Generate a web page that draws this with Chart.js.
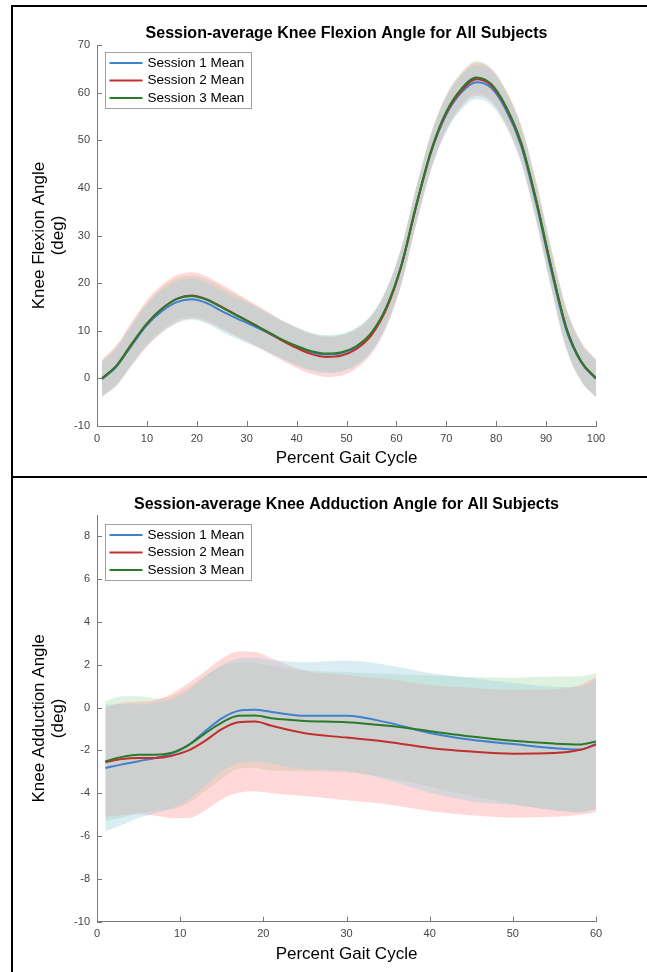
<!DOCTYPE html>
<html>
<head>
<meta charset="utf-8">
<script src="https://cdn.jsdelivr.net/npm/chart.js@4.4.1/dist/chart.umd.min.js"></script>
<style>
  html, body { margin: 0; padding: 0; background: #fff; }
  #page { position: relative; width: 647px; height: 972px; overflow: hidden; }
  canvas { position: absolute; left: 0; }
  #flexion { top: 0; }
  #adduction { top: 477px; }
  .rule { position: absolute; background: #000; }
</style>
</head>
<body>
<div id="page">
  <canvas id="flexion" width="647" height="477"></canvas>
  <canvas id="adduction" width="647" height="495"></canvas>
  <div class="rule" style="left:11px; top:5px; width:2px; height:967px"></div>
  <div class="rule" style="left:11px; top:5px; width:636px; height:2px"></div>
  <div class="rule" style="left:11px; top:476px; width:636px; height:2px"></div>
</div>
<script>
const sessionLabels = ["Session 1 Mean", "Session 2 Mean", "Session 3 Mean"];
const lineColors = ["#3f80cf", "#c0302c", "#2b7a2b"];
const bandColors = ["rgba(160,210,222,0.4)", "rgba(255,160,160,0.4)", "rgba(175,220,175,0.4)"];

// knee flexion (deg), every 3% of the gait cycle
const flexPct = [1, 4, 7, 10, 13, 16, 19, 22, 25, 28, 31, 34, 37, 40, 43, 46, 49, 52, 55, 58, 61, 64, 67, 70, 73, 76, 79, 82, 85, 88, 91, 94, 97, 100];
const flexS1 = [-0.2, 2.6, 7.0, 11.2, 14.1, 16.0, 16.6, 15.8, 14.1, 12.6, 11.2, 9.7, 8.1, 6.7, 5.5, 5.0, 5.3, 6.6, 9.4, 14.8, 23.6, 36.3, 47.6, 55.4, 60.0, 62.2, 61.0, 56.3, 48.8, 36.8, 22.8, 10.3, 3.4, -0.1];
const flexS2 = [0.0, 2.8, 7.3, 11.5, 14.6, 16.7, 17.4, 16.6, 15.0, 13.3, 11.6, 9.8, 8.0, 6.4, 5.1, 4.5, 4.8, 6.2, 9.1, 14.6, 23.6, 36.3, 47.8, 55.7, 60.4, 62.8, 61.5, 56.8, 49.3, 37.4, 23.4, 10.8, 3.6, 0.0];
const flexS3 = [0.0, 2.8, 7.3, 11.5, 14.6, 16.7, 17.3, 16.5, 14.9, 13.2, 11.6, 9.9, 8.2, 6.8, 5.7, 5.2, 5.5, 6.8, 9.6, 15.0, 23.8, 36.5, 48.0, 56.0, 60.8, 63.2, 61.8, 57.0, 49.5, 37.5, 23.5, 10.8, 3.6, 0.0];
const flexSd1 = [3.6, 3.9, 4.1, 4.3, 4.4, 4.4, 4.3, 4.3, 4.3, 4.3, 4.2, 4.1, 4.0, 4.0, 3.9, 3.9, 3.9, 3.9, 3.8, 3.8, 3.8, 3.8, 3.8, 3.7, 3.6, 3.6, 3.6, 3.6, 3.7, 3.9, 4.0, 4.1, 4.0, 3.9];
const flexSd2 = [3.9, 4.3, 4.6, 4.9, 5.0, 5.0, 4.9, 4.8, 4.7, 4.6, 4.4, 4.3, 4.2, 4.2, 4.2, 4.2, 4.2, 4.1, 4.0, 3.9, 3.9, 3.8, 3.7, 3.6, 3.5, 3.5, 3.5, 3.6, 3.8, 4.0, 4.1, 4.2, 4.1, 4.0];
const flexSd3 = [3.7, 4.0, 4.2, 4.4, 4.5, 4.4, 4.3, 4.3, 4.3, 4.3, 4.2, 4.1, 4.0, 4.0, 3.9, 3.9, 3.9, 3.9, 3.8, 3.8, 3.8, 3.8, 3.7, 3.6, 3.5, 3.4, 3.4, 3.5, 3.7, 3.9, 4.0, 4.1, 4.0, 3.9];
const flexXTicks = [0, 10, 20, 30, 40, 50, 60, 70, 80, 90, 100];
const flexYTicks = [-10, 0, 10, 20, 30, 40, 50, 60, 70];

// knee adduction (deg), first 60% of the gait cycle
const addPct = [1, 3, 5, 7, 9, 11, 13, 15, 17, 19, 21, 25, 30, 35, 40, 45, 50, 55, 58, 60];
const addS1 = [-2.82, -2.65, -2.5, -2.35, -2.15, -1.75, -1.1, -0.5, -0.15, -0.1, -0.2, -0.38, -0.38, -0.7, -1.18, -1.5, -1.7, -1.9, -1.96, -1.7];
const addS2 = [-2.55, -2.4, -2.35, -2.35, -2.25, -2.0, -1.55, -1.0, -0.68, -0.65, -0.85, -1.2, -1.4, -1.6, -1.88, -2.05, -2.15, -2.12, -1.98, -1.73];
const addS3 = [-2.5, -2.3, -2.2, -2.2, -2.1, -1.75, -1.2, -0.7, -0.38, -0.37, -0.5, -0.62, -0.68, -0.85, -1.1, -1.35, -1.55, -1.68, -1.72, -1.58];
const addSd1 = [2.95, 2.83, 2.65, 2.58, 2.55, 2.55, 2.55, 2.5, 2.45, 2.43, 2.43, 2.5, 2.58, 2.68, 2.8, 2.88, 2.85, 2.88, 2.93, 3.0];
const addSd2 = [2.55, 2.63, 2.63, 2.7, 2.9, 3.15, 3.25, 3.28, 3.3, 3.25, 3.15, 2.93, 2.93, 2.93, 2.95, 2.98, 2.98, 2.98, 3.03, 3.15];
const addSd3 = [2.8, 2.83, 2.73, 2.63, 2.65, 2.7, 2.7, 2.65, 2.48, 2.45, 2.45, 2.35, 2.35, 2.43, 2.6, 2.78, 2.95, 3.13, 3.18, 3.18];
const addXTicks = [0, 10, 20, 30, 40, 50, 60];
const addYTicks = [-10, -8, -6, -4, -2, 0, 2, 4, 6, 8];

const fontFamily = '"Liberation Sans", Arial, Helvetica, sans-serif';
const axisColor = "#7a7a7a";
const tickTextColor = "#444";

Chart.defaults.font.family = fontFamily;

// MATLAB style ticks pointing into the axes
const inwardTicks = {
  id: "inwardTicks",
  afterDatasetsDraw(chart) {
    const { ctx, chartArea: a, scales: { x, y } } = chart;
    ctx.save();
    ctx.strokeStyle = axisColor;
    ctx.lineWidth = 1;
    ctx.beginPath();
    x.ticks.forEach((t) => {
      const px = Math.round(x.getPixelForValue(t.value)) + 0.5;
      ctx.moveTo(px, a.bottom);
      ctx.lineTo(px, a.bottom - 5);
    });
    y.ticks.forEach((t) => {
      const py = Math.round(y.getPixelForValue(t.value)) + 0.5;
      ctx.moveTo(a.left, py);
      ctx.lineTo(a.left + 5, py);
    });
    ctx.stroke();
    ctx.restore();
  },
};

// boxed legend in the upper left corner of the axes
const sessionLegend = {
  id: "sessionLegend",
  afterDraw(chart, args, opts) {
    const { ctx, chartArea: a } = chart;
    const bx = Math.round(a.left + 8) + 0.5;
    const by = Math.round(a.top + opts.offsetY) + 0.5;
    const rowH = 17.5;
    const w = 146, h = 56;
    ctx.save();
    ctx.fillStyle = "#fff";
    ctx.fillRect(bx, by, w, h);
    ctx.strokeStyle = "#a0a0a0";
    ctx.lineWidth = 1;
    ctx.strokeRect(bx, by, w, h);
    ctx.font = "13.5px " + fontFamily;
    ctx.textBaseline = "middle";
    ctx.fillStyle = "#000";
    chart.data.datasets.filter((d) => d.meanLine).forEach((d, i) => {
      const ry = by + 10.5 + i * rowH;
      ctx.strokeStyle = d.borderColor;
      ctx.lineWidth = 2;
      ctx.beginPath();
      ctx.moveTo(bx + 4, ry);
      ctx.lineTo(bx + 37, ry);
      ctx.stroke();
      ctx.fillText(d.label, bx + 42, ry);
    });
    ctx.restore();
  },
};

function points(pct, vals) {
  return pct.map((x, i) => ({ x: x, y: vals[i] }));
}

function buildChart(canvasId, c) {
  const datasets = [];
  c.means.forEach((m, i) => {
    datasets.push({
      label: sessionLabels[i],
      meanLine: true,
      data: points(c.pct, m),
      borderColor: lineColors[i],
      borderWidth: 2,
      pointRadius: 0,
      fill: false,
      cubicInterpolationMode: "monotone",
      order: 3 - i,
    });
  });
  // mean +/- SD bands; green drawn first, then red, then blue on top
  c.means.forEach((m, i) => {
    const sd = c.sds[i];
    datasets.push({
      label: sessionLabels[i] + " upper",
      data: points(c.pct, m.map((v, j) => v + sd[j])),
      borderColor: "transparent",
      borderWidth: 0,
      pointRadius: 0,
      backgroundColor: bandColors[i],
      fill: "+1",
      cubicInterpolationMode: "monotone",
      order: 10 + i,
    });
    datasets.push({
      label: sessionLabels[i] + " lower",
      data: points(c.pct, m.map((v, j) => v - sd[j])),
      borderColor: "transparent",
      borderWidth: 0,
      pointRadius: 0,
      fill: false,
      cubicInterpolationMode: "monotone",
      order: 10 + i,
    });
  });

  return new Chart(document.getElementById(canvasId), {
    type: "line",
    data: { datasets },
    plugins: [inwardTicks, sessionLegend],
    options: {
      responsive: false,
      animation: false,
      layout: { padding: { left: 0, right: c.padRight, top: 0, bottom: 0 } },
      plugins: {
        legend: { display: false },
        tooltip: { enabled: false },
        title: {
          display: true,
          text: c.title,
          fullSize: false,
          color: "#000",
          font: { size: 16, weight: "bold" },
          padding: c.titlePad,
        },
        sessionLegend: { offsetY: c.legendY },
      },
      scales: {
        x: {
          type: "linear",
          min: 0,
          max: c.xMax,
          afterBuildTicks: (s) => { s.ticks = c.xTicks.map((v) => ({ value: v })); },
          afterFit: (s) => { s.height = c.xHeight; },
          grid: { display: false, drawTicks: false },
          border: { display: true, color: axisColor, width: 1 },
          ticks: { color: tickTextColor, font: { size: 11 }, padding: 6, maxRotation: 0 },
          title: {
            display: true,
            text: "Percent Gait Cycle",
            color: "#000",
            font: { size: 17 },
            padding: { top: 0, bottom: c.xTitlePad },
          },
        },
        y: {
          type: "linear",
          min: c.yMin,
          max: c.yMax,
          afterBuildTicks: (s) => { s.ticks = c.yTicks.map((v) => ({ value: v })); },
          afterFit: (s) => { s.width = 97; },
          grid: { display: false, drawTicks: false },
          border: { display: true, color: axisColor, width: 1 },
          ticks: { color: tickTextColor, font: { size: 11 }, padding: 7 },
          title: {
            display: true,
            text: c.yTitle,
            color: "#000",
            font: { size: 17, lineHeight: 1.1 },
            padding: { top: 30, bottom: 0 },
          },
        },
      },
    },
  });
}

buildChart("flexion", {
  title: "Session-average Knee Flexion Angle for All Subjects",
  yTitle: ["Knee Flexion Angle", "(deg)"],
  pct: flexPct,
  means: [flexS1, flexS2, flexS3],
  sds: [flexSd1, flexSd2, flexSd3],
  xMax: 100, yMin: -10, yMax: 70,
  xTicks: flexXTicks, yTicks: flexYTicks,
  padRight: 51,
  titlePad: { top: 24, bottom: 1.8 },
  xHeight: 51,
  xTitlePad: 8.5,
  legendY: 7,
});

buildChart("adduction", {
  title: "Session-average Knee Adduction Angle for All Subjects",
  yTitle: ["Knee Adduction Angle", "(deg)"],
  pct: addPct,
  means: [addS1, addS2, addS3],
  sds: [addSd1, addSd2, addSd3],
  xMax: 60, yMin: -10, yMax: 9,
  xTicks: addXTicks, yTicks: addYTicks,
  padRight: 51,
  titlePad: { top: 17.7, bottom: 1.1 },
  xHeight: 50.3,
  xTitlePad: 7.5,
  legendY: 9,
});
</script>
</body>
</html>
